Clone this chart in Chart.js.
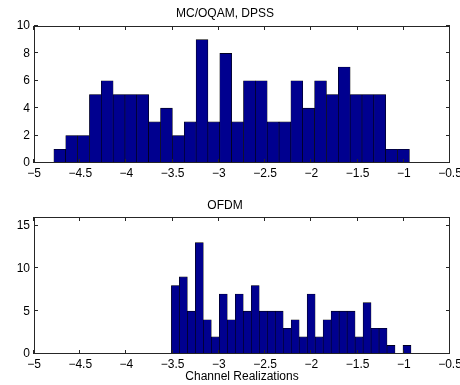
<!DOCTYPE html>
<html>
<head>
<meta charset="utf-8">
<script src="https://cdn.jsdelivr.net/npm/chart.js@4.4.0/dist/chart.umd.min.js"></script>
<style>
  body { margin: 0; background: #fff; }
  canvas { position: absolute; left: 0; }
  #top { top: 0; }
  #bottom { top: 190px; }
</style>
</head>
<body>
<canvas id="top" width="460" height="190"></canvas>
<canvas id="bottom" width="460" height="195"></canvas>
<script>
// bin centres and counts
const dpssCenters = [-4.7209, -4.5927, -4.4645, -4.3363, -4.2081, -4.0799, -3.9517, -3.8235, -3.6953, -3.5671,
                     -3.4389, -3.3107, -3.1825, -3.0543, -2.9261, -2.7979, -2.6697, -2.5415, -2.4133, -2.2851,
                     -2.1569, -2.0287, -1.9005, -1.7723, -1.6441, -1.5159, -1.3877, -1.2595, -1.1313, -1.0031];
const dpssCounts = [1, 2, 2, 5, 6, 5, 5, 5, 3, 4, 2, 3, 9, 3, 8, 3, 6, 6, 3, 3, 6, 4, 6, 5, 7, 5, 5, 5, 1, 1];

const ofdmCenters = [-3.4708, -3.3844, -3.2980, -3.2116, -3.1252, -3.0388, -2.9524, -2.8660, -2.7796, -2.6932,
                     -2.6068, -2.5204, -2.4340, -2.3476, -2.2612, -2.1748, -2.0884, -2.0020, -1.9156, -1.8292,
                     -1.7428, -1.6564, -1.5700, -1.4836, -1.3972, -1.3108, -1.2244, -1.1380, -1.0516, -0.9652];
const ofdmCounts = [8, 9, 5, 13, 4, 2, 7, 4, 7, 5, 8, 5, 5, 5, 3, 4, 2, 7, 2, 4, 5, 5, 5, 2, 6, 3, 3, 1, 0, 1];

const xTicks = [-5, -4.5, -4, -3.5, -3, -2.5, -2, -1.5, -1, -0.5];
const dpssYTicks = [0, 2, 4, 6, 8, 10];
const ofdmYTicks = [0, 5, 10, 15];
const dpssYMax = 10;
const ofdmYMax = 16;

Chart.defaults.font.family = '"Liberation Sans", Arial, Helvetica, sans-serif';
Chart.defaults.font.size = 12;
Chart.defaults.color = '#000';

const minus = v => String(v).replace('-', '\u2212');

// matlab style box with inward ticks on all four sides
const matlabBox = {
  id: 'matlabBox',
  afterDraw(chart) {
    const { ctx, chartArea: a, scales: { x, y } } = chart;
    ctx.save();
    ctx.strokeStyle = '#262626';
    ctx.lineWidth = 1;
    ctx.beginPath();
    x.ticks.forEach(t => {
      const px = Math.round(x.getPixelForValue(t.value)) - 0.5;
      ctx.moveTo(px, a.bottom); ctx.lineTo(px, a.bottom - 4);
      ctx.moveTo(px, a.top); ctx.lineTo(px, a.top + 4);
    });
    y.ticks.forEach(t => {
      const py = Math.round(y.getPixelForValue(t.value)) - 0.5;
      ctx.moveTo(a.left, py); ctx.lineTo(a.left + 4, py);
      ctx.moveTo(a.right, py); ctx.lineTo(a.right - 4, py);
    });
    ctx.stroke();
    ctx.strokeRect(a.left + 0.5, a.top + 0.5, a.right - a.left - 1, a.bottom - a.top - 1);
    ctx.restore();
  }
};

function makeHist(id, title, centers, counts, yTicks, yMax, opts) {
  return new Chart(document.getElementById(id), {
    type: 'bar',
    data: {
      datasets: [{
        data: centers.map((c, i) => ({ x: c, y: counts[i] })),
        backgroundColor: '#00008F',
        borderColor: '#000',
        borderWidth: 0.6,
        barPercentage: 1,
        categoryPercentage: 1
      }]
    },
    options: {
      responsive: false,
      animation: false,
      layout: { padding: { left: 0, right: 10, top: 0, bottom: 0 } },
      plugins: {
        legend: { display: false },
        tooltip: { enabled: false },
        title: {
          display: true,
          text: title,
          font: { size: 12, weight: 'normal' },
          padding: opts.titlePad
        }
      },
      scales: {
        x: {
          type: 'linear',
          offset: false,
          min: xTicks[0],
          max: xTicks[xTicks.length - 1],
          grid: { display: false, drawTicks: false },
          border: { display: false },
          ticks: { autoSkip: false, maxRotation: 0, padding: 3, callback: minus },
          afterBuildTicks(s) { s.ticks = xTicks.map(v => ({ value: v })); },
          title: opts.xTitle ? { display: true, text: opts.xTitle, font: { size: 12 }, padding: { top: 0, bottom: 1 } } : { display: false },
          afterFit(s) { s.height = opts.xHeight; s.paddingLeft = 0; s.paddingRight = 0; }
        },
        y: {
          min: 0,
          max: yMax,
          grid: { display: false, drawTicks: false },
          border: { display: false },
          ticks: { padding: 4 },
          afterBuildTicks(s) { s.ticks = yTicks.map(v => ({ value: v })); },
          afterFit(s) { s.width = 34; }
        }
      }
    },
    plugins: [matlabBox]
  });
}

makeHist('top', 'MC/OQAM, DPSS', dpssCenters, dpssCounts, dpssYTicks, dpssYMax,
  { titlePad: { top: 6, bottom: 5.6 }, xHeight: 27 });
makeHist('bottom', 'OFDM', ofdmCenters, ofdmCounts, ofdmYTicks, ofdmYMax,
  { titlePad: { top: 8, bottom: 4.6 }, xHeight: 31, xTitle: 'Channel Realizations' });
</script>
</body>
</html>
